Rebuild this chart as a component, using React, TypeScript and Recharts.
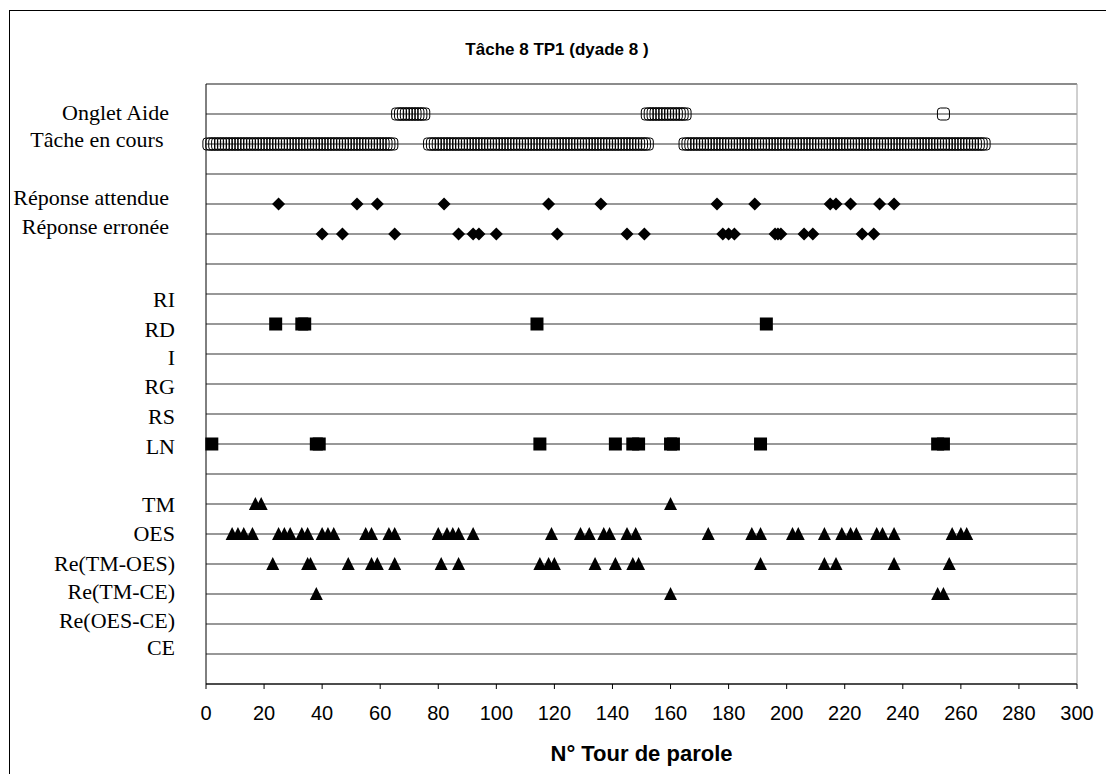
import React from 'react';
import { ScatterChart, Scatter, XAxis, YAxis, CartesianGrid, ReferenceLine } from 'recharts';

// row number -> label on the left (rows 7, 14, 17 are blank spacer rows)
const ROW_LABELS: Record<number, string> = {
  19: 'Onglet Aide',
  18: 'Tâche en cours ',
  16: 'Réponse attendue',
  15: 'Réponse erronée',
  13: 'RI',
  12: 'RD',
  11: 'I',
  10: 'RG',
  9: 'RS',
  8: 'LN',
  6: 'TM',
  5: 'OES',
  4: 'Re(TM-OES)',
  3: 'Re(TM-CE)',
  2: 'Re(OES-CE)',
  1: 'CE',
};

// the labels in the original don't sit exactly on their lines
const LABEL_DY: Record<number, number> = {
  19: -1, 18: -4, 16: -6, 15: -7, 13: 6, 12: 6, 11: 4, 10: 3, 9: 3, 8: 3,
  6: 1, 5: 0, 4: 0, 3: -2, 2: -3, 1: -6,
};

const Y_TICKS = [1, 2, 3, 4, 5, 6, 7, 8, 9, 10, 11, 12, 13, 14, 15, 16, 17, 18, 19];
const X_TICKS = [0, 20, 40, 60, 80, 100, 120, 140, 160, 180, 200, 220, 240, 260, 280, 300];

// turn numbers (N° Tour de parole) per row
const ongletAide = [
  66, 67, 68, 69, 70, 71, 72, 73, 74, 75,
  152, 153, 154, 155, 156, 157, 158, 159, 160, 161, 162, 163, 164, 165,
  254,
];

const tacheEnCours = [
  1, 2, 3, 4, 5, 6, 7, 8, 9, 10, 11, 12, 13, 14, 15, 16, 17, 18, 19, 20,
  21, 22, 23, 24, 25, 26, 27, 28, 29, 30, 31, 32, 33, 34, 35, 36, 37, 38, 39, 40,
  41, 42, 43, 44, 45, 46, 47, 48, 49, 50, 51, 52, 53, 54, 55, 56, 57, 58, 59, 60,
  61, 62, 63, 64,
  77, 78, 79, 80, 81, 82, 83, 84, 85, 86, 87, 88, 89, 90, 91, 92, 93, 94, 95, 96,
  97, 98, 99, 100, 101, 102, 103, 104, 105, 106, 107, 108, 109, 110, 111, 112, 113, 114, 115, 116,
  117, 118, 119, 120, 121, 122, 123, 124, 125, 126, 127, 128, 129, 130, 131, 132, 133, 134, 135, 136,
  137, 138, 139, 140, 141, 142, 143, 144, 145, 146, 147, 148, 149, 150, 151, 152,
  165, 166, 167, 168, 169, 170, 171, 172, 173, 174, 175, 176, 177, 178, 179, 180, 181, 182, 183, 184,
  185, 186, 187, 188, 189, 190, 191, 192, 193, 194, 195, 196, 197, 198, 199, 200, 201, 202, 203, 204,
  205, 206, 207, 208, 209, 210, 211, 212, 213, 214, 215, 216, 217, 218, 219, 220, 221, 222, 223, 224,
  225, 226, 227, 228, 229, 230, 231, 232, 233, 234, 235, 236, 237, 238, 239, 240, 241, 242, 243, 244,
  245, 246, 247, 248, 249, 250, 251, 252, 253, 254, 255, 256, 257, 258, 259, 260, 261, 262, 263, 264,
  265, 266, 267, 268,
];

const reponseAttendue = [25, 52, 59, 82, 118, 136, 176, 189, 215, 217, 222, 232, 237];
const reponseErronee = [40, 47, 65, 87, 92, 94, 100, 121, 145, 151, 178, 180, 182, 196, 197, 198, 206, 209, 226, 230];

const rd = [24, 33, 34, 114, 193];
const ln = [2, 38, 39, 115, 141, 147, 149, 160, 161, 191, 252, 254];

const tm = [17, 19, 160];
const oes = [
  9, 11, 13, 16, 25, 27, 29, 33, 35, 40, 42, 44, 55, 57, 63, 65, 80, 83, 85, 87, 92,
  119, 129, 132, 137, 139, 145, 148, 173, 188, 191, 202, 204, 213, 219, 222, 224,
  231, 233, 237, 257, 260, 262,
];
const reTmOes = [23, 35, 36, 49, 57, 59, 65, 81, 87, 115, 118, 120, 134, 141, 147, 149, 191, 213, 217, 237, 256];
const reTmCe = [38, 160, 252, 254];

const toPoints = (xs: number[], row: number) => xs.map((x) => ({ x, y: row }));

const HollowMark = (p: any) => (
  <rect x={p.cx - 6} y={p.cy - 6} width={12} height={12} rx={3} fill="none" stroke="#000" strokeWidth={1} />
);
const Diamond = (p: any) => (
  <polygon
    points={`${p.cx},${p.cy - 6.5} ${p.cx + 6.5},${p.cy} ${p.cx},${p.cy + 6.5} ${p.cx - 6.5},${p.cy}`}
    fill="#000"
  />
);
const Square = (p: any) => <rect x={p.cx - 6.5} y={p.cy - 6.5} width={13} height={13} fill="#000" />;
const Triangle = (p: any) => (
  <polygon
    points={`${p.cx},${p.cy - 7} ${p.cx + 6.5},${p.cy + 6} ${p.cx - 6.5},${p.cy + 6}`}
    fill="#000"
  />
);

const RowLabel = (props: any) => {
  const { y, payload } = props;
  const label = ROW_LABELS[payload.value];
  if (!label) return <g />;
  const upper = payload.value >= 15;
  return (
    <text
      x={upper ? 169 : 175}
      y={y + (LABEL_DY[payload.value] || 0) + 7}
      textAnchor="end"
      fontFamily="'Liberation Serif', 'Times New Roman', serif"
      fontSize={22}
      fill="#000"
      style={{ whiteSpace: 'pre' }}
    >
      {label}
    </text>
  );
};

const sans = "'Liberation Sans', Arial, sans-serif";

export default function App() {
  return (
    <div
      style={{
        position: 'absolute',
        left: 0,
        top: 0,
        width: 1106,
        height: 774,
        overflow: 'hidden',
        background: '#fff',
      }}
    >
      <div
        style={{
          position: 'absolute',
          left: 9,
          top: 10,
          width: 1110,
          height: 780,
          border: '1px solid #000',
        }}
      />
      <div
        style={{
          position: 'absolute',
          left: 9,
          top: 40,
          width: 1096,
          textAlign: 'center',
          fontFamily: sans,
          fontWeight: 'bold',
          fontSize: 17,
          lineHeight: '20px',
        }}
      >
        Tâche 8 TP1 (dyade 8 )
      </div>
      <div style={{ position: 'absolute', left: 0, top: 0 }}>
        <ScatterChart width={1106} height={774} margin={{ top: 84, right: 29, bottom: 30, left: 0 }}>
          <CartesianGrid vertical={false} stroke="#333" strokeWidth={1.2} />
          <XAxis
            type="number"
            dataKey="x"
            domain={[0, 300]}
            ticks={X_TICKS}
            interval={0}
            height={60}
            tickSize={5}
            tickMargin={17}
            axisLine={{ stroke: '#000' }}
            tickLine={{ stroke: '#000' }}
            tick={{ fontSize: 20, fill: '#000', fontFamily: sans }}
          />
          <YAxis
            type="number"
            dataKey="y"
            domain={[0, 20]}
            ticks={Y_TICKS}
            interval={0}
            width={206}
            axisLine={{ stroke: '#000' }}
            tickLine={false}
            tick={<RowLabel />}
          />
          <ReferenceLine y={20} stroke="#808080" />
          <ReferenceLine x={300} stroke="#a0a0a0" />
          <Scatter name="Tâche en cours" data={toPoints(tacheEnCours, 18)} shape={HollowMark} isAnimationActive={false} />
          <Scatter name="Onglet Aide" data={toPoints(ongletAide, 19)} shape={HollowMark} isAnimationActive={false} />
          <Scatter name="Réponse attendue" data={toPoints(reponseAttendue, 16)} shape={Diamond} isAnimationActive={false} />
          <Scatter name="Réponse erronée" data={toPoints(reponseErronee, 15)} shape={Diamond} isAnimationActive={false} />
          <Scatter name="RD" data={toPoints(rd, 12)} shape={Square} isAnimationActive={false} />
          <Scatter name="LN" data={toPoints(ln, 8)} shape={Square} isAnimationActive={false} />
          <Scatter name="TM" data={toPoints(tm, 6)} shape={Triangle} isAnimationActive={false} />
          <Scatter name="OES" data={toPoints(oes, 5)} shape={Triangle} isAnimationActive={false} />
          <Scatter name="Re(TM-OES)" data={toPoints(reTmOes, 4)} shape={Triangle} isAnimationActive={false} />
          <Scatter name="Re(TM-CE)" data={toPoints(reTmCe, 3)} shape={Triangle} isAnimationActive={false} />
        </ScatterChart>
      </div>
      <div
        style={{
          position: 'absolute',
          left: 206,
          top: 743,
          width: 871,
          textAlign: 'center',
          fontFamily: sans,
          fontWeight: 'bold',
          fontSize: 22,
          lineHeight: '22px',
        }}
      >
        N° Tour de parole
      </div>
    </div>
  );
}
